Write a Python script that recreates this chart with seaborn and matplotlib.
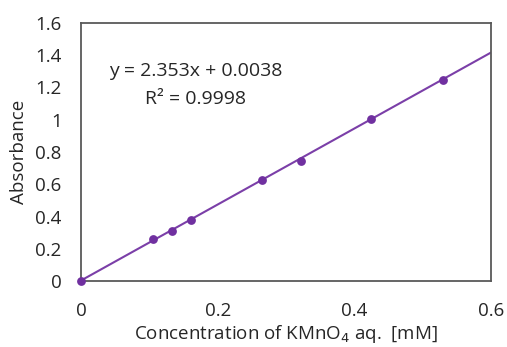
import matplotlib
matplotlib.use("Agg")
import matplotlib.pyplot as plt
import seaborn as sns
import numpy as np
import pandas as pd

conc = [0.0, 0.106, 0.133, 0.161, 0.265, 0.322, 0.424, 0.530]
absorb = [0.0, 0.259, 0.312, 0.377, 0.625, 0.745, 1.006, 1.248]
slope = 2.353
intercept = 0.0038
x_ticks = [0, 0.2, 0.4, 0.6]
x_tick_labels = ["0", "0.2", "0.4", "0.6"]
y_ticks = [0, 0.2, 0.4, 0.6, 0.8, 1.0, 1.2, 1.4, 1.6]
y_tick_labels = ["0", "0.2", "0.4", "0.6", "0.8", "1", "1.2", "1.4", "1.6"]

sns.set_theme(style="white")
plt.rcParams['font.family'] = ['Open Sans', 'DejaVu Sans']

fig = plt.figure(figsize=(5.07, 3.47), dpi=100)
ax = fig.add_axes([0.160, 0.190, 0.808, 0.744])

df = pd.DataFrame({"x": conc, "y": absorb})
line_x = [0.0, 0.6]
line_df = pd.DataFrame({"x": line_x, "y": [slope * v + intercept for v in line_x]})

sns.lineplot(data=line_df, x="x", y="y", ax=ax, color="#7B3FA8", linewidth=1.5)
sns.scatterplot(data=df, x="x", y="y", ax=ax, color="#7030A0", s=40,
                edgecolor="#7030A0", linewidth=0, zorder=3, clip_on=False)

ax.set_xlim(0, 0.6)
ax.set_ylim(0, 1.6)
ax.set_xticks(x_ticks)
ax.set_xticklabels(x_tick_labels)
ax.set_yticks(y_ticks)
ax.set_yticklabels(y_tick_labels)
ax.tick_params(axis="both", length=0, labelsize=13.5, colors="#262626")
ax.tick_params(axis="x", pad=15)
ax.tick_params(axis="y", pad=14)

for s in ax.spines.values():
    s.set_color("#595959")
    s.set_linewidth(1.3)
    s.set_visible(True)

ax.set_xlabel("Concentration of KMnO$_4$ aq.  [mM]", fontsize=13.5, color="#262626", labelpad=2)
ax.set_ylabel("Absorbance", fontsize=13.5, color="#262626", labelpad=5)

ax.text(0.168, 1.30, "y = 2.353x + 0.0038", ha="center", va="center", fontsize=14, color="#262626")
ax.text(0.168, 1.13, "R² = 0.9998", ha="center", va="center", fontsize=14, color="#262626")

fig.savefig("out.png", dpi=100)
